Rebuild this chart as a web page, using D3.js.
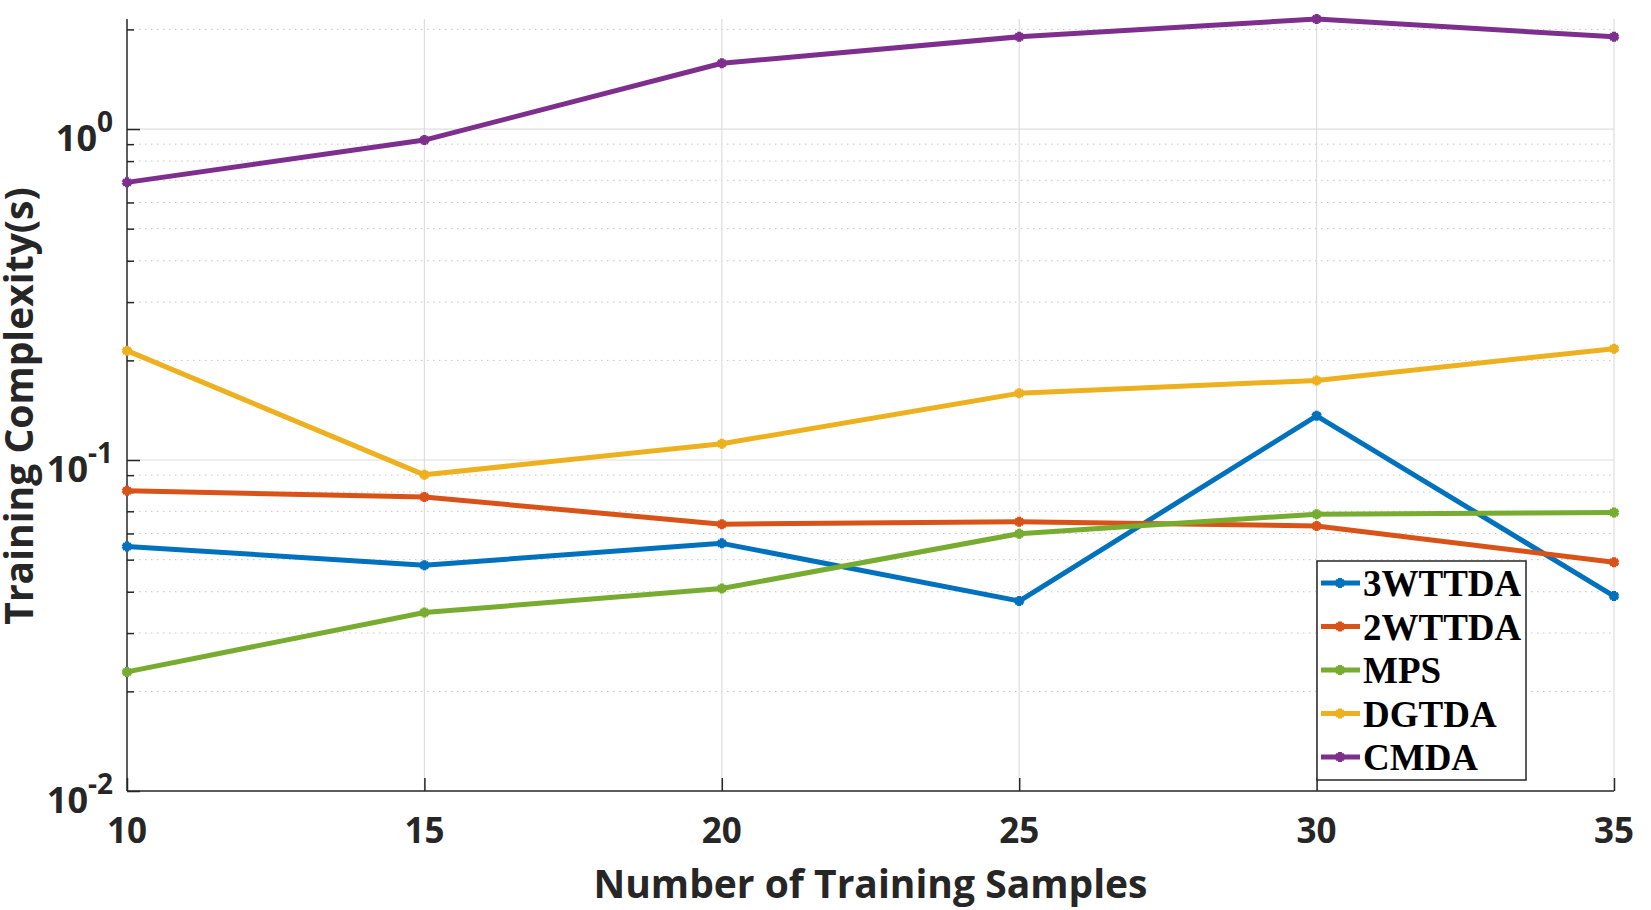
<!DOCTYPE html>
<html lang="en">
<head>
    <meta charset="UTF-8">
    <title>Training Complexity</title>
    <style>
        body { margin: 0; background: #fff; }
    </style>
</head>
<body>
    <script src="https://d3js.org/d3.v7.min.js"></script>
    <script>
        // Data
        let samples = [10, 15, 20, 25, 30, 35];
        let seriesNames = ["3WTTDA", "2WTTDA", "MPS", "DGTDA", "CMDA"];
        let w3ttda = [0.0548, 0.0481, 0.0560, 0.0375, 0.136, 0.0388];
        let w2ttda = [0.0808, 0.0773, 0.0640, 0.0651, 0.0632, 0.0491];
        let mps = [0.0229, 0.0346, 0.0409, 0.0599, 0.0686, 0.0694];
        let dgtda = [0.214, 0.0902, 0.112, 0.159, 0.174, 0.217];
        let cmda = [0.69, 0.926, 1.58, 1.90, 2.15, 1.90];
        let seriesColors = ["#0072BD", "#D95319", "#77AC30", "#EDB120", "#7E2F8E"];
        let xTicks = [10, 15, 20, 25, 30, 35];
        let yMajor = [0.01, 0.1, 1];
        let yMajorExp = ["-2", "-1", "0"];

        let allSeries = [w3ttda, w2ttda, mps, dgtda, cmda];

        // SVG dimensions
        let svgWidth = 1651;
        let svgHeight = 910;
        let margin = { top: 19, right: 37, bottom: 119, left: 127 };
        let chartWidth = svgWidth - margin.left - margin.right;
        let chartHeight = svgHeight - margin.top - margin.bottom;

        let svg = d3.select("body")
            .append("svg")
            .attr("width", svgWidth)
            .attr("height", svgHeight);

        let chartGroup = svg.append("g")
            .attr("transform", `translate(${margin.left}, ${margin.top})`);

        // Scales
        let xScale = d3.scaleLinear()
            .domain([10, 35])
            .range([0, chartWidth]);

        let yScale = d3.scaleLog()
            .domain([0.01, 2.15])
            .range([chartHeight, 0]);

        // minor ticks 2..9 in each decade, within domain
        let yMinor = [];
        yMajor.forEach(function(d) {
            for (let k = 2; k <= 9; k++) {
                let v = d * k;
                if (v <= 2.15) yMinor.push(v);
            }
        });

        // Minor grid (dotted)
        chartGroup.append("g")
            .selectAll("line")
            .data(yMinor)
            .enter()
            .append("line")
            .attr("x1", 0)
            .attr("x2", chartWidth)
            .attr("y1", d => yScale(d))
            .attr("y2", d => yScale(d))
            .attr("stroke", "#c4c4c4")
            .attr("stroke-width", 1)
            .attr("stroke-dasharray", "1.5,4.5");

        // Major grid
        chartGroup.append("g")
            .selectAll("line")
            .data(yMajor.filter(d => d > 0.01))
            .enter()
            .append("line")
            .attr("x1", 0)
            .attr("x2", chartWidth)
            .attr("y1", d => yScale(d))
            .attr("y2", d => yScale(d))
            .attr("stroke", "#dedede")
            .attr("stroke-width", 1.2);

        chartGroup.append("g")
            .selectAll("line")
            .data(xTicks.filter(d => d > 10))
            .enter()
            .append("line")
            .attr("x1", d => xScale(d))
            .attr("x2", d => xScale(d))
            .attr("y1", 0)
            .attr("y2", chartHeight)
            .attr("stroke", "#dedede")
            .attr("stroke-width", 1.2);

        // Axes (ticks pointing inward)
        let xAxis = d3.axisTop(xScale)
            .tickValues(xTicks)
            .tickSize(13)
            .tickFormat("");

        chartGroup.append("g")
            .attr("transform", `translate(0, ${chartHeight})`)
            .call(xAxis)
            .call(g => g.select(".domain").attr("d", `M0,0H${chartWidth}`))
            .selectAll("line, path")
            .attr("stroke", "#262626")
            .attr("stroke-width", 1.5);

        let yAxisMajor = d3.axisRight(yScale)
            .tickValues(yMajor)
            .tickSize(13)
            .tickFormat("");

        chartGroup.append("g")
            .call(yAxisMajor)
            .call(g => g.select(".domain").attr("d", `M0,0V${chartHeight}`))
            .selectAll("line, path")
            .attr("stroke", "#262626")
            .attr("stroke-width", 1.5);

        let yAxisMinor = d3.axisRight(yScale)
            .tickValues(yMinor)
            .tickSize(7)
            .tickFormat("");

        chartGroup.append("g")
            .call(yAxisMinor)
            .call(g => g.select(".domain").remove())
            .selectAll("line")
            .attr("stroke", "#262626")
            .attr("stroke-width", 1.5);

        // X tick labels
        chartGroup.append("g")
            .selectAll("text")
            .data(xTicks)
            .enter()
            .append("text")
            .attr("x", d => xScale(d))
            .attr("y", chartHeight + 52)
            .attr("text-anchor", "middle")
            .style("font-family", "'Open Sans', sans-serif")
            .style("font-weight", "bold")
            .style("font-size", "35px")
            .attr("fill", "#262626")
            .text(d => d);

        // Y tick labels with superscripts
        let yLabels = chartGroup.append("g")
            .selectAll("text")
            .data(yMajor)
            .enter()
            .append("text")
            .attr("x", -14)
            .attr("y", d => yScale(d) + 22)
            .attr("text-anchor", "end")
            .style("font-family", "'Open Sans', sans-serif")
            .style("font-weight", "bold")
            .style("font-size", "36px")
            .attr("fill", "#262626");

        yLabels.append("tspan").text("10");
        yLabels.append("tspan")
            .attr("dy", -19)
            .style("font-size", "28px")
            .text((d, i) => yMajorExp[i]);

        // Axis titles
        svg.append("text")
            .attr("x", margin.left + chartWidth / 2)
            .attr("y", 898)
            .attr("text-anchor", "middle")
            .style("font-family", "'Open Sans', sans-serif")
            .style("font-weight", "bold")
            .style("font-size", "39px")
            .attr("fill", "#262626")
            .text("Number of Training Samples");

        svg.append("text")
            .attr("transform", "rotate(-90)")
            .attr("x", -406)
            .attr("y", 33)
            .attr("text-anchor", "middle")
            .style("font-family", "'Open Sans', sans-serif")
            .style("font-weight", "bold")
            .style("font-size", "39px")
            .attr("fill", "#262626")
            .text("Training Complexity(s)");

        // Lines
        let line = d3.line()
            .x((d, i) => xScale(samples[i]))
            .y(d => yScale(d));

        let marker = d3.symbol().type(d3.symbolAsterisk).size(70);

        allSeries.forEach(function(values, s) {
            chartGroup.append("path")
                .datum(values)
                .attr("fill", "none")
                .attr("stroke", seriesColors[s])
                .attr("stroke-width", 5)
                .attr("stroke-linejoin", "round")
                .attr("d", line);

            chartGroup.append("g")
                .selectAll("path")
                .data(values)
                .enter()
                .append("path")
                .attr("transform", (d, i) => `translate(${xScale(samples[i])}, ${yScale(d)})`)
                .attr("d", marker)
                .attr("fill", "none")
                .attr("stroke", seriesColors[s])
                .attr("stroke-width", 4);
        });

        // Legend
        let legend = svg.append("g")
            .attr("transform", "translate(1317, 561)");

        legend.append("rect")
            .attr("width", 209)
            .attr("height", 219)
            .attr("fill", "#fff")
            .attr("stroke", "#262626")
            .attr("stroke-width", 1.5);

        let legendItems = legend.selectAll(".item")
            .data(seriesNames)
            .enter()
            .append("g")
            .attr("class", "item")
            .attr("transform", (d, i) => `translate(0, ${22 + i * 43.5})`);

        legendItems.append("line")
            .attr("x1", 4)
            .attr("x2", 43)
            .attr("stroke", (d, i) => seriesColors[i])
            .attr("stroke-width", 5);

        legendItems.append("path")
            .attr("transform", "translate(23, 0)")
            .attr("d", marker)
            .attr("fill", "none")
            .attr("stroke", (d, i) => seriesColors[i])
            .attr("stroke-width", 4);

        legendItems.append("text")
            .attr("x", 46)
            .attr("y", 13)
            .style("font-family", "'Liberation Serif', 'Times New Roman', serif")
            .style("font-weight", "bold")
            .style("font-size", "37px")
            .attr("fill", "#000")
            .text(d => d);
    </script>
</body>
</html>
